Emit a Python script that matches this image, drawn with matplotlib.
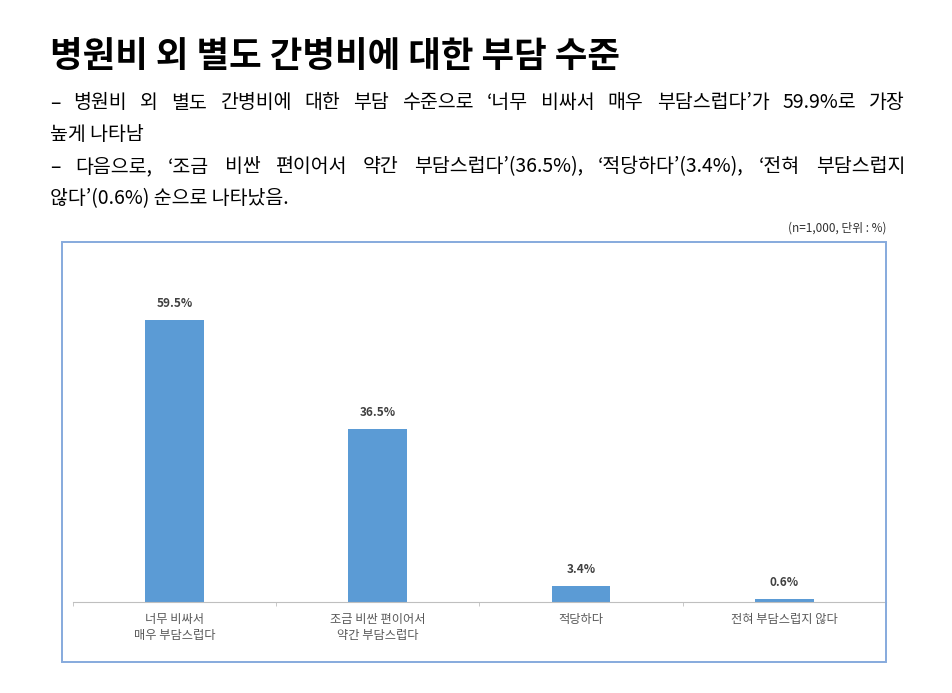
import matplotlib
matplotlib.use('Agg')
import matplotlib.pyplot as plt
from matplotlib.patches import Rectangle

plt.rcParams['font.family'] = ['Noto Sans CJK KR', 'DejaVu Sans']

title = '병원비 외 별도 간병비에 대한 부담 수준'
body = [
    ('– 병원비 외 별도 간병비에 대한 부담 수준으로 ‘너무 비싸서 매우 부담스럽다’가 59.9%로 가장', True),
    ('높게 나타남', False),
    ('– 다음으로, ‘조금 비싼 편이어서 약간 부담스럽다’(36.5%), ‘적당하다’(3.4%), ‘전혀 부담스럽지', True),
    ('않다’(0.6%) 순으로 나타났음.', False),
]
note = '(n=1,000, 단위 : %)'
categories = ['너무 비싸서\n매우 부담스럽다', '조금 비싼 편이어서\n약간 부담스럽다', '적당하다', '전혀 부담스럽지 않다']
values = [59.5, 36.5, 3.4, 0.6]
value_labels = ['59.5%', '36.5%', '3.4%', '0.6%']

W, H = 953, 693
fig = plt.figure(figsize=(W / 100, H / 100), dpi=100)


def fx(px):
    return px / W


def fy(py):
    return 1 - py / H


# title and body text
fig.text(fx(50), fy(57), title, fontsize=25.5, fontweight='bold', va='center', ha='left', color='black')

renderer = fig.canvas.get_renderer()
x0, x1 = 50, 905
line_y = [103, 135, 167, 199]
for (line, justify), yy in zip(body, line_y):
    if not justify:
        fig.text(fx(x0), fy(yy), line, fontsize=14, va='center', ha='left')
        continue
    # justified line: spread the words across the full width
    words = line.split(' ')
    texts = [fig.text(0, fy(yy), w, fontsize=14, va='center', ha='left') for w in words]
    widths = [t.get_window_extent(renderer).width for t in texts]
    gap = (x1 - x0 - sum(widths)) / (len(words) - 1)
    x = x0
    for t, w in zip(texts, widths):
        t.set_x(fx(x))
        x += w + gap

fig.text(fx(887), fy(228), note, fontsize=8.5, ha='right', va='center', color='#333333')

# chart box
fig.patches.append(Rectangle((fx(62), fy(662)), fx(886 - 62), (662 - 242) / H,
                             transform=fig.transFigure, fill=False,
                             edgecolor='#86AADD', linewidth=1.4))

ax = fig.add_axes([fx(72.7), fy(602), fx(886 - 72.7), (602 - 250) / H])
x = range(len(categories))
bars = ax.bar(x, values, width=0.29, color='#5B9BD5')
for b, lab in zip(bars, value_labels):
    ax.annotate(lab, (b.get_x() + b.get_width() / 2, b.get_height()),
                xytext=(0, 7), textcoords='offset points', ha='center', va='bottom',
                fontsize=8.5, fontweight='bold', color='#404040')

ax.set_xlim(-0.5, len(categories) - 0.5)
ax.set_ylim(0, 74.3)
ax.set_xticks(list(x))
ax.set_xticklabels(categories, fontsize=8.8, color='#595959', linespacing=1.3)
ax.set_xticks([i - 0.5 for i in range(len(categories) + 1)], minor=True)
ax.tick_params(axis='x', which='major', length=0, pad=8)
ax.tick_params(axis='x', which='minor', length=3, color='#BFBFBF')
ax.set_yticks([])
for s in ['top', 'left', 'right']:
    ax.spines[s].set_visible(False)
ax.spines['bottom'].set_color('#BFBFBF')
ax.patch.set_alpha(0)

fig.savefig('out.png', dpi=100)
